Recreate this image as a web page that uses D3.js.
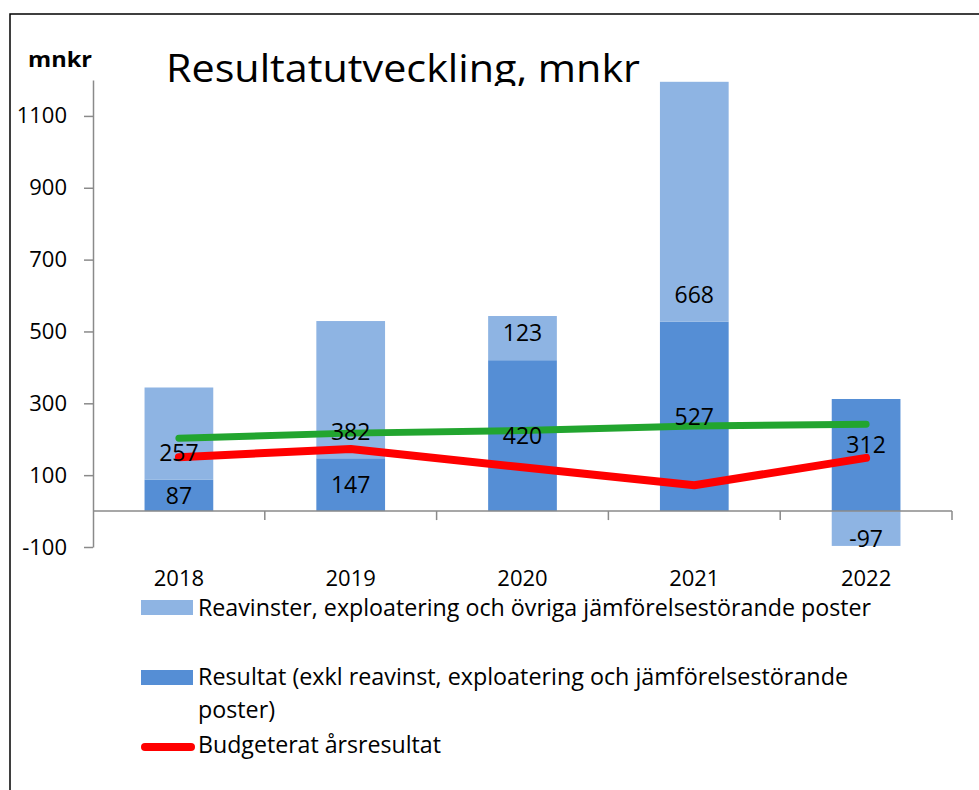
<html>

<head>
    <style>
        body {
            margin: 0;
            background-color: white;
            font-family: "Open Sans", Helvetica, Arial, sans-serif
        }
    </style>

    <script src="https://cdn.jsdelivr.net/npm/d3@7"></script>

</head>

<body>
    <svg id="Chart"></svg>

    <script>
    // Data
    let years = ["2018", "2019", "2020", "2021", "2022"];
    let resultat = [87, 147, 420, 527, 312];          // dark bars
    let reavinster = [257, 382, 123, 668, -97];        // light bars (stacked)
    let budget = [150, 173, 122, 72, 148];             // red line
    let trend = [203, 217, 224, 237, 242];             // green line
    let yTicks = [-100, 100, 300, 500, 700, 900, 1100];

    let legendLabels = [
        "Reavinster, exploatering och övriga jämförelsestörande poster",
        "Resultat (exkl reavinst, exploatering och jämförelsestörande",
        "poster)",
        "Budgeterat årsresultat"
    ];

    let colors = {
        light: "#8eb4e3",
        dark: "#558ed5",
        red: "#ff0000",
        green: "#22a52f",
        axis: "#8a8a8a"
    };

    function getConfig() {
        let width = 979;
        let height = 790;
        let plot = { left: 93, right: 952, top: 80, bottom: 547 };
        let container = d3.select("#Chart")
            .attr("width", width)
            .attr("height", height);
        return { width, height, plot, container };
    }

    function getScales(config) {
        let { plot } = config;
        let xScale = d3.scaleBand()
            .domain(years)
            .range([plot.left, plot.right])
            .paddingInner(0.6)
            .paddingOuter(0.3);
        let yScale = d3.scaleLinear()
            .domain([-100, 1200])
            .range([plot.bottom, plot.top]);
        return { xScale, yScale };
    }

    // stretch a text to the width it has in the original
    function fitText(sel, w) {
        sel.attr("textLength", w).attr("lengthAdjust", "spacingAndGlyphs");
        return sel;
    }

    function drawFrame(config) {
        let { container } = config;
        container.append("rect")
            .attr("x", 10)
            .attr("y", 14)
            .attr("width", 1100)
            .attr("height", 900)
            .attr("fill", "white")
            .attr("stroke", "black")
            .attr("stroke-width", 1.5);

        fitText(container.append("text")
            .attr("x", 28)
            .attr("y", 67)
            .attr("font-size", 21)
            .attr("font-weight", "bold")
            .text("mnkr"), 64);

        // the title is cut at the bottom in the original
        container.append("clipPath").attr("id", "titleClip")
            .append("rect")
            .attr("x", 0).attr("y", 0)
            .attr("width", 979).attr("height", 86);

        fitText(container.append("text")
            .attr("clip-path", "url(#titleClip)")
            .attr("x", 166)
            .attr("y", 82)
            .attr("font-size", 39)
            .text("Resultatutveckling, mnkr"), 474);
    }

    function drawBars(config, scales) {
        let { container } = config;
        let { xScale, yScale } = scales;
        let rows = years.map((y, i) => ({
            year: y, dark: resultat[i], light: reavinster[i]
        }));
        let bw = xScale.bandwidth();

        // dark bars from 0
        container.append("g").selectAll("rect")
            .data(rows)
            .enter().append("rect")
            .attr("x", d => xScale(d.year))
            .attr("width", bw)
            .attr("y", d => yScale(Math.max(0, d.dark)))
            .attr("height", d => Math.abs(yScale(0) - yScale(d.dark)))
            .attr("fill", colors.dark);

        // light bars stacked on top of the dark ones (negative goes below 0)
        let lightBase = d => d.light >= 0 ? d.dark : 0;
        container.append("g").selectAll("rect")
            .data(rows)
            .enter().append("rect")
            .attr("x", d => xScale(d.year))
            .attr("width", bw)
            .attr("y", d => yScale(Math.max(lightBase(d), lightBase(d) + d.light)))
            .attr("height", d => Math.abs(yScale(lightBase(d)) - yScale(lightBase(d) + d.light)))
            .attr("fill", colors.light);

        return { rows, lightBase };
    }

    function drawAxes(config, scales) {
        let { container, plot } = config;
        let { xScale, yScale } = scales;

        let axisY = d3.axisLeft(yScale)
            .tickValues(yTicks)
            .tickFormat(d => String(d))
            .tickSize(9)
            .tickPadding(17)
            .tickSizeOuter(0);
        let gy = container.append("g")
            .attr("transform", `translate(${plot.left},0)`)
            .call(axisY);
        gy.select(".domain").attr("stroke", colors.axis).attr("stroke-width", 1.5);
        gy.selectAll(".tick line").attr("stroke", colors.axis).attr("stroke-width", 1.5);
        gy.selectAll(".tick text")
            .attr("font-family", "Open Sans")
            .attr("font-size", 22)
            .attr("fill", "black");

        // category axis at zero, ticks between categories
        let step = xScale.step();
        let bounds = years.map((y, i) => plot.left + step * (i + 1));
        let gx = container.append("g");
        gx.append("line")
            .attr("x1", plot.left).attr("x2", plot.right)
            .attr("y1", yScale(0)).attr("y2", yScale(0))
            .attr("stroke", colors.axis).attr("stroke-width", 1.5);
        gx.selectAll(".xtick").data(bounds)
            .enter().append("line")
            .attr("x1", d => d).attr("x2", d => d)
            .attr("y1", yScale(0)).attr("y2", yScale(0) + 9)
            .attr("stroke", colors.axis).attr("stroke-width", 1.5);
        gx.selectAll(".xlabel").data(years)
            .enter().append("text")
            .attr("x", d => xScale(d) + xScale.bandwidth() / 2)
            .attr("y", 586)
            .attr("text-anchor", "middle")
            .attr("font-size", 22)
            .text(d => d);
    }

    function drawLines(config, scales) {
        let { container } = config;
        let { xScale, yScale } = scales;
        let cx = i => xScale(years[i]) + xScale.bandwidth() / 2;
        let line = d3.line()
            .x((d, i) => cx(i))
            .y(d => yScale(d));

        container.append("path")
            .attr("d", line(trend))
            .attr("fill", "none")
            .attr("stroke", colors.green)
            .attr("stroke-width", 7)
            .attr("stroke-linecap", "round")
            .attr("stroke-linejoin", "round");

        container.append("path")
            .attr("d", line(budget))
            .attr("fill", "none")
            .attr("stroke", colors.red)
            .attr("stroke-width", 8)
            .attr("stroke-linecap", "round")
            .attr("stroke-linejoin", "round");
    }

    function drawLabels(config, scales, bars) {
        let { container } = config;
        let { xScale, yScale } = scales;
        let { rows, lightBase } = bars;
        let cx = d => xScale(d.year) + xScale.bandwidth() / 2;
        // the 2022 dark label was nudged up a little in the original
        let darkNudge = [0, 0, 0, 0, -10];

        container.append("g").selectAll("text")
            .data(rows)
            .enter().append("text")
            .attr("x", cx)
            .attr("y", (d, i) => yScale(d.dark / 2) + darkNudge[i])
            .attr("dy", "0.36em")
            .attr("text-anchor", "middle")
            .attr("font-size", 23)
            .text(d => d.dark);

        // light labels sit just inside the base of their segment
        container.append("g").selectAll("text")
            .data(rows)
            .enter().append("text")
            .attr("x", cx)
            .attr("y", d => yScale(lightBase(d)) + (d.light >= 0 ? -27 : 28))
            .attr("dy", "0.36em")
            .attr("text-anchor", "middle")
            .attr("font-size", 23)
            .text(d => d.light);
    }

    function drawLegend(config) {
        let { container } = config;
        let g = container.append("g");
        let tx = 198;

        g.append("rect").attr("x", 141).attr("y", 600).attr("width", 52).attr("height", 15)
            .attr("fill", colors.light);
        fitText(g.append("text").attr("x", tx).attr("y", 616).attr("font-size", 23)
            .text(legendLabels[0]), 673);

        g.append("rect").attr("x", 141).attr("y", 670).attr("width", 52).attr("height", 15)
            .attr("fill", colors.dark);
        fitText(g.append("text").attr("x", tx).attr("y", 685).attr("font-size", 23)
            .text(legendLabels[1]), 650);
        fitText(g.append("text").attr("x", tx).attr("y", 718).attr("font-size", 23)
            .text(legendLabels[2]), 77);

        g.append("line").attr("x1", 145).attr("x2", 191).attr("y1", 747).attr("y2", 747)
            .attr("stroke", colors.red).attr("stroke-width", 8).attr("stroke-linecap", "round");
        fitText(g.append("text").attr("x", tx).attr("y", 753).attr("font-size", 23)
            .text(legendLabels[3]), 243);
    }

    function drawChart() {
        let config = getConfig();
        let scales = getScales(config);
        drawFrame(config);
        let bars = drawBars(config, scales);
        drawAxes(config, scales);
        drawLines(config, scales);
        drawLabels(config, scales, bars);
        drawLegend(config);
    }

    drawChart();
    </script>
</body>

</html>
